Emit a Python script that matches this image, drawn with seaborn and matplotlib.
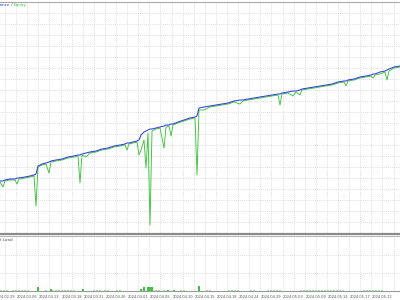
import matplotlib
matplotlib.use("Agg")
import matplotlib.pyplot as plt
import seaborn as sns
import numpy as np
import pandas as pd

# ---------------- data ----------------
trade = [0, 3, 5, 10, 15, 17, 19, 25, 30, 34, 36, 38, 42, 46, 49, 51, 56, 62, 68, 74,
         78, 80, 82, 86, 90, 96, 102, 108, 114, 120, 125, 127, 129, 133, 137, 139, 141, 144, 146, 148,
         150, 152, 156, 160, 164, 166, 169, 171, 173, 178, 184, 190, 195, 197, 199, 204, 210, 216, 222, 228,
         234, 240, 243, 248, 254, 260, 266, 272, 278, 280, 282, 288, 293, 296, 300, 302, 308, 314, 320, 326,
         332, 338, 344, 346, 348, 354, 360, 366, 371, 373, 375, 380, 385, 387, 389, 394, 400]

balance = [10000, 10000, 10025, 10050, 10050, 10075, 10075, 10100, 10125, 10150,
           10175, 10375, 10425, 10450, 10475, 10500, 10525, 10550, 10600, 10625,
           10650, 10650, 10675, 10700, 10725, 10750, 10800, 10825, 10875, 10900,
           10925, 10950, 10950, 10975, 11000, 11025, 11150, 11225, 11250, 11275,
           11300, 11300, 11325, 11350, 11375, 11400, 11400, 11425, 11425, 11475,
           11525, 11575, 11600, 11625, 11825, 11850, 11875, 11900, 11925, 11950,
           12000, 12025, 12025, 12050, 12075, 12100, 12125, 12150, 12175, 12175,
           12200, 12225, 12250, 12250, 12275, 12300, 12325, 12350, 12375, 12400,
           12425, 12475, 12500, 12500, 12525, 12550, 12600, 12625, 12650, 12675,
           12675, 12725, 12750, 12775, 12800, 12850, 12875]

equity = [9975, 9850, 10000, 10025, 10025, 9925, 10050, 10075, 10100, 10125,
          9375, 10350, 10400, 10425, 10200, 10475, 10500, 10525, 10575, 10600,
          10625, 9950, 10650, 10600, 10700, 10725, 10775, 10800, 10850, 10875,
          10900, 10775, 10925, 10950, 10975, 10650, 10775, 11025, 10325, 11200,
          8900, 11250, 11300, 11325, 10825, 11350, 11375, 11125, 11400, 11450,
          11500, 11550, 11575, 10150, 11775, 11775, 11850, 11875, 11900, 11925,
          11975, 11925, 12000, 12025, 12050, 12075, 12100, 12125, 12150, 11900,
          12175, 12200, 12125, 12225, 12150, 12275, 12300, 12325, 12350, 12375,
          12400, 12450, 12475, 12375, 12500, 12525, 12575, 12600, 12625, 12575,
          12650, 12675, 12725, 12525, 12750, 12825, 12850]

load_x = [1, 4, 7, 13, 16, 19, 22, 25, 28, 38, 46, 51, 53, 56, 59, 62, 65, 68, 71, 74,
          83, 94, 97, 100, 105, 108, 117, 120, 141, 144, 148, 150, 152, 156, 159, 164, 168, 174,
          181, 184, 199, 207, 210, 229, 232, 235, 238, 251, 254, 268, 271, 274, 277, 280,
          301, 304, 307, 310, 313, 316, 319, 322, 325, 328, 331, 334, 337, 340, 343,
          364, 367, 370, 373, 376, 379, 382]
load_pct = [1.5, 1.5, 1.5, 1.5, 1.5, 1.5, 1.5, 1.5, 1.5, 7.5, 1.5, 3.5, 1.5, 1.5, 1.5, 1.5, 1.5, 1.5, 1.5, 1.5,
            3.5, 1.5, 1.5, 1.5, 1.5, 1.5, 1.5, 1.5, 3.5, 7.0, 7.5, 7.5, 7.5, 1.5, 1.5, 1.5, 2.0, 2.0,
            1.5, 1.5, 9.5, 1.5, 1.5, 1.5, 1.5, 1.5, 1.5, 1.5, 1.5, 1.5, 1.5, 1.5, 1.5, 1.5,
            1.5, 1.5, 1.5, 1.5, 1.5, 1.5, 1.5, 1.5, 1.5, 1.5, 1.5, 1.5, 1.5, 1.5, 1.5,
            1.5, 1.5, 1.5, 1.5, 1.5, 1.5, 1.5]

date_labels = ["2024.02.29", "2024.03.06", "2024.03.13", "2024.03.18", "2024.03.21",
               "2024.03.26", "2024.04.01", "2024.04.05", "2024.04.10", "2024.04.15",
               "2024.04.18", "2024.04.24", "2024.04.29", "2024.05.03", "2024.05.09",
               "2024.05.14", "2024.05.17", "2024.05.22"]

# ---------------- style ----------------
sns.set_style("white")
plt.rcParams['font.family'] = ['DejaVu Sans']

BLUE = "#3040d8"
GREEN = "#3cc43c"
LIGHT_GREEN = "#a6e0a6"
GRID = "#d4d4d4"

df = pd.DataFrame({"trade": trade, "balance": balance, "equity": equity})
dl = pd.DataFrame({"x": load_x, "load": load_pct})

fig = plt.figure(figsize=(4, 3), dpi=100)
ax = fig.add_axes([0, 0.22, 1, 0.77333])
ax2 = fig.add_axes([0, 0.03, 1, 0.18333])

sns.lineplot(data=df, x="trade", y="equity", ax=ax, color=GREEN, linewidth=0.65,
             sort=False, estimator=None)
sns.lineplot(data=df, x="trade", y="balance", ax=ax, color=BLUE, linewidth=0.75,
             sort=False, estimator=None)

xmin, xmax = 0, 400
ax.set_xlim(xmin, xmax)
ax.set_ylim(8675, 14475)

major = 5 + 22.2 * np.arange(len(date_labels))
minor = major + 11.1
ygrid = 14475 - 275 * np.arange(1, 22)

for a in (ax, ax2):
    a.set_xlim(xmin, xmax)
    a.set_xticks(major)
    a.set_xticks(minor, minor=True)
    a.grid(True, which="both", axis="x", color=GRID, linestyle=(0, (1, 1.5)), linewidth=0.6)
    a.grid(True, which="major", axis="y", color=GRID, linestyle=(0, (1, 1.5)), linewidth=0.6)
    a.set_xlabel("")
    a.set_ylabel("")
    a.spines["left"].set_visible(False)
    a.spines["right"].set_visible(False)
    a.tick_params(left=False, labelleft=False, which="both", length=0)
    a.set_axisbelow(True)

ax.set_yticks(ygrid)
ax.set_xticklabels([])
ax.spines["top"].set_color("#a8a8a8")
ax.spines["top"].set_linewidth(0.8)
ax.spines["bottom"].set_color("#8a8a8a")
ax.spines["bottom"].set_linewidth(1.6)

colors = [GREEN if v >= 2 else LIGHT_GREEN for v in dl["load"]]
ax2.bar(dl["x"], dl["load"], width=2.2, color=colors, linewidth=0)
ax2.set_ylim(0, 100)
ax2.set_yticks([33, 66])
ax2.set_xticklabels(date_labels, fontsize=2.6, color="#555555")
ax2.tick_params(axis="x", pad=2.6)
ax2.spines["top"].set_color("#b5b5b5")
ax2.spines["top"].set_linewidth(0.8)
ax2.spines["bottom"].set_color("#9a9a9a")
ax2.spines["bottom"].set_linewidth(0.8)

# legend-like captions (cropped on the left as in the reference)
fig.canvas.draw()
r = fig.canvas.get_renderer()
t_eq = fig.text(27 / 400, 1 - 5 / 300, "Equity", ha="right", va="center", fontsize=3, color=GREEN)
w = t_eq.get_window_extent(r).width
t_sl = fig.text((27 - w) / 400, 1 - 5 / 300, " / ", ha="right", va="center", fontsize=3, color="#444444")
w2 = t_sl.get_window_extent(r).width
fig.text((27 - w - w2) / 400, 1 - 5 / 300, "Balance", ha="right", va="center", fontsize=3, color=BLUE)

fig.text(13 / 400, 1 - 240 / 300, "Deposit Load", ha="right", va="center", fontsize=3, color="#555555")

fig.savefig("out.png", dpi=100)
